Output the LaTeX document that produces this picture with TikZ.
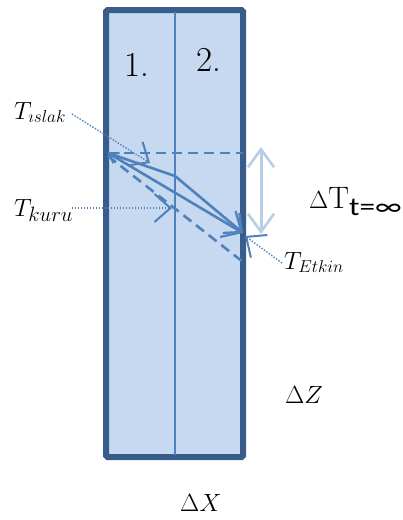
\documentclass[tikz,border=0pt]{standalone}
\usepackage{fontspec}
\newfontfamily\sans{Carlito}
\usetikzlibrary{arrows.meta}
\definecolor{border}{HTML}{385D8A}
\definecolor{fillb}{HTML}{C6D9F1}
\definecolor{midb}{HTML}{4F81BD}
\definecolor{lightb}{HTML}{B9CDE5}
\tikzset{
  wall/.style={draw=border, line width=6pt, fill=fillb, rounded corners=1.5pt},
  flow/.style={draw=midb, line width=2.6pt},
  dashflow/.style={draw=midb, line width=2.6pt, dash pattern=on 10pt off 6pt},
  leader/.style={draw=midb, line width=1.4pt, dash pattern=on 1.4pt off 1.6pt,
    -{Straight Barb[length=16pt, width=28pt, line width=2pt]}},
  lbl/.style={inner sep=0pt, text=black}
}
\begin{document}
\begin{tikzpicture}[x=1pt, y=-1pt]
\useasboundingbox (0,0) rectangle (403,520);
% wall
\path[wall] (106,10) rectangle (243,457);
\coordinate (mt) at (175,12);
\coordinate (mb) at (175,455);
\draw[draw=midb, line width=2pt] (mt) -- (mb);
% key points
\coordinate (L) at (108,153);
\coordinate (K) at (175,176);
\coordinate (R) at (243,233);
\coordinate (HR) at (243,153);
\coordinate (DR) at (243,262);
\coordinate (DL) at (108,156);
% dashed lines
\draw[dashflow] (L) -- (HR);
\draw[dashflow] (DL) -- (DR);
% solid arrows
\draw[flow, -{Straight Barb[length=14pt, width=26pt, line width=2.2pt]}] (L) -- (K) -- (R);
\draw[flow, {Straight Barb[length=8pt, width=12pt, line width=2.2pt]}-{Straight Barb[length=16pt, width=30pt, line width=2.2pt]}] (L) -- (R);
% double arrow
\coordinate (Da) at (261,147);
\coordinate (Db) at (261,234);
\draw[draw=lightb, line width=3pt, {Straight Barb[length=18pt, width=26pt, line width=2.6pt]}-{Straight Barb[length=18pt, width=26pt, line width=2.6pt]}] (Da) -- (Db);
% labels
\node[lbl, anchor=base west, font=\fontsize{35}{40}\selectfont] (n1) at (124,76) {1.};
\node[lbl, anchor=base west, font=\fontsize{35}{40}\selectfont] (n2) at (196,71) {2.};
\node[lbl, anchor=base west, font=\fontsize{27}{32}\selectfont] (ti) at (14,119) {$T_{\imath slak}$};
\node[lbl, anchor=base west, font=\fontsize{28}{32}\selectfont] (tk) at (14,216) {$T_{kuru}$};
\node[lbl, anchor=base west, font=\fontsize{27}{32}\selectfont] (te) at (284,269) {$T_{Etkin}$};
\node[lbl, anchor=base west, font=\fontsize{31}{36}\selectfont] (dT) at (309,208) {$\Delta\mathrm{T}$\raisebox{-7pt}{\sans\fontsize{26}{30}\selectfont\scalebox{1.2}[1]{t=∞}}};
\node[lbl, anchor=base west, font=\fontsize{28}{32}\selectfont] (dZ) at (285,403) {$\Delta Z$};
\node[lbl, anchor=base west, font=\fontsize{30}{34}\selectfont] (dX) at (180,511) {$\Delta X$};
% leaders
\coordinate (tiS) at (72,114);
\coordinate (tkS) at (72,208);
\coordinate (teS) at (282,263);
\coordinate (tiA) at (150,163);
\coordinate (tkA) at (172,208);
\coordinate (teA) at (245,236);
\draw[leader] (tiS) -- (tiA);
\draw[leader] (tkS) -- (tkA);
\draw[leader] (teS) -- (teA);
\end{tikzpicture}
\end{document}
